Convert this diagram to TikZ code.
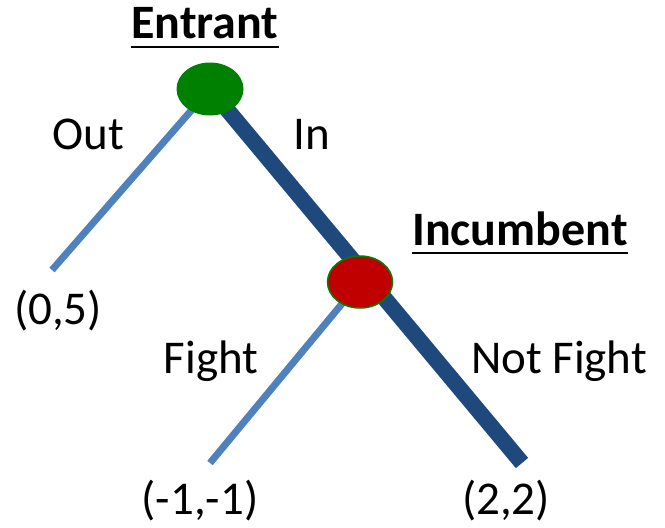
\documentclass[tikz,border=0pt]{standalone}
\usepackage{fontspec}
\setmainfont{Carlito}
\definecolor{lightblue}{HTML}{4F81BD}
\definecolor{darkblue}{HTML}{1F497D}
\definecolor{nodegreen}{HTML}{008000}
\definecolor{nodered}{HTML}{C00000}
\tikzset{
  lbl/.style={font=\fontsize{47}{56}\selectfont, anchor=base, inner sep=0pt},
  title/.style={font=\fontsize{48}{56}\selectfont\bfseries, anchor=base, inner sep=0pt},
  thinedge/.style={draw=lightblue, line width=7pt},
  thickedge/.style={draw=darkblue, line width=16pt},
  decision/.style={ellipse, minimum width=67pt, minimum height=53pt, inner sep=0pt},
}
\usetikzlibrary{shapes.geometric}
\begin{document}
\begin{tikzpicture}[x=1pt,y=-1pt]
\useasboundingbox (0,0) rectangle (665,528);
% coordinates
\coordinate (E) at (210,89);
\coordinate (I) at (360,282);
\coordinate (outend) at (52,270);
\coordinate (fightend) at (210,463);
\coordinate (nfend) at (522,463);
% edges
\draw[thinedge] (E) -- (outend);
\draw[thickedge] (E) -- (nfend);
\draw[thinedge] (I) -- (fightend);
% nodes
\node[decision, fill=nodegreen] (entrant) at (E) {};
\node[decision, fill=nodered, draw=nodegreen, line width=1.5pt, minimum width=65pt, minimum height=52pt] (incumbent) at (I) {};
% titles
\node[title] (tE) at (205,38) {Entrant};
\draw[line width=2.6pt] ([yshift=-9pt]tE.base west) -- ([yshift=-9pt]tE.base east);
\node[title] (tI) at (520,245) {Incumbent};
\draw[line width=2.6pt] ([yshift=-8pt]tI.base west) -- ([yshift=-8pt]tI.base east);
% labels
\node[lbl] (lout) at (88,149) {Out};
\node[lbl] (lin) at (312,149) {In};
\node[lbl] (lfight) at (211,373) {Fight};
\node[lbl] (lnf) at (559,373) {Not Fight};
\node[lbl] (p1) at (58,324) {(0,5)};
\node[lbl] (p2) at (200,514) {(-1,-1)};
\node[lbl] (p3) at (506,514) {(2,2)};
\end{tikzpicture}
\end{document}
